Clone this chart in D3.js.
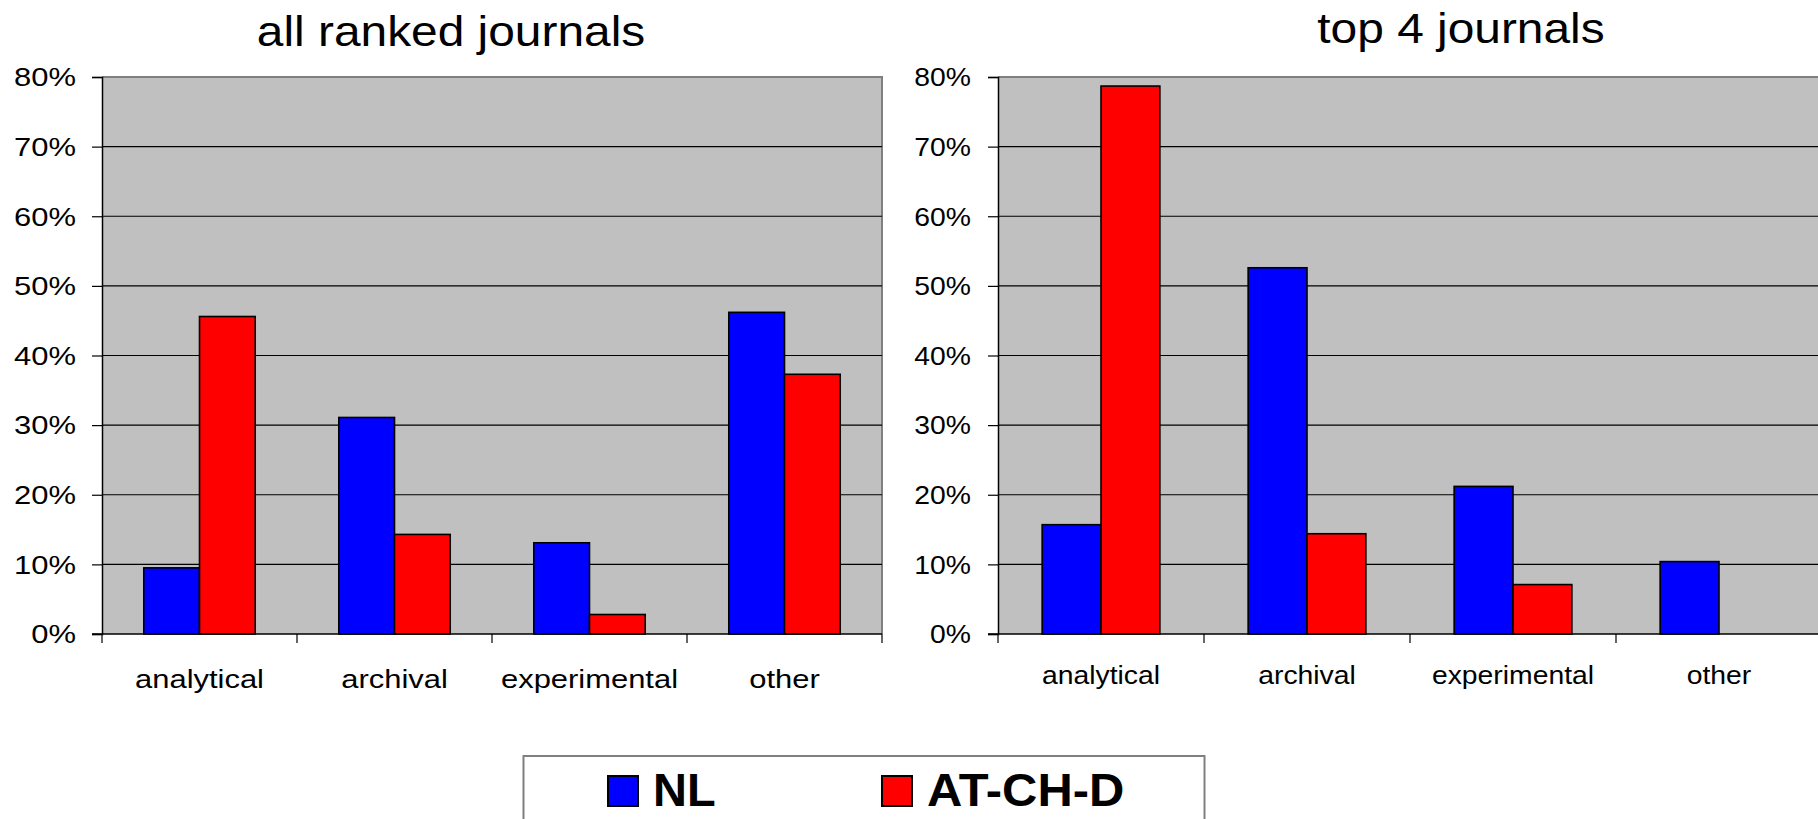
<!DOCTYPE html>
<html>
<head>
<meta charset="utf-8">
<script src="https://cdn.jsdelivr.net/npm/d3@7"></script>
<style>
  html, body { margin: 0; padding: 0; background: #fff; }
  svg { display: block; font-family: "Liberation Sans", Arial, sans-serif; }
</style>
</head>
<body>
<svg id="chart" width="1818" height="819"></svg>
<script>
// ---- data ----
const categories = ["analytical", "archival", "experimental", "other"];
const seriesNames = ["NL", "AT-CH-D"];
const seriesColors = ["#0000FF", "#FF0000"];
const allRankedNL = [9.5, 31.1, 13.1, 46.2];
const allRankedAT = [45.6, 14.3, 2.8, 37.3];
const top4NL = [15.7, 52.6, 21.2, 10.4];
const top4AT = [78.7, 14.4, 7.1, 0];
const yTickValues = [0, 10, 20, 30, 40, 50, 60, 70, 80];
const panelTitles = ["all ranked journals", "top 4 journals"];

const svg = d3.select("#chart");

function stretchedText(g, x, y, txt, size, sx, anchor, weight) {
  return g.append("text")
    .attr("transform", `translate(${x},${y}) scale(${sx},1)`)
    .attr("text-anchor", anchor)
    .attr("font-size", size)
    .attr("font-weight", weight || "normal")
    .attr("fill", "#000")
    .text(txt);
}

function drawPanel(cfg) {
  const g = svg.append("g");
  const y = d3.scaleLinear().domain([0, 80]).range([634, 77]);
  const x0 = d3.scaleBand().domain(categories).range([cfg.left, cfg.right]).padding(0);
  const cw = x0.bandwidth();
  const barW = cw / 3.5;
  const x1 = d3.scaleBand().domain(seriesNames).range([0.75 * barW, 2.75 * barW]).padding(0);

  // plot area
  g.append("rect")
    .attr("x", cfg.left).attr("y", y(80))
    .attr("width", cfg.right - cfg.left).attr("height", y(0) - y(80))
    .attr("fill", "#C0C0C0");
  // top & right border
  g.append("path")
    .attr("d", `M${cfg.left},${y(80)}H${cfg.right}V${y(0)}`)
    .attr("fill", "none").attr("stroke", "#808080").attr("stroke-width", 2);

  // gridlines
  g.selectAll(".grid").data(yTickValues.filter(v => v > 0 && v < 80)).enter()
    .append("line")
    .attr("x1", cfg.left).attr("x2", cfg.right)
    .attr("y1", d => y(d)).attr("y2", d => y(d))
    .attr("stroke", "#000").attr("stroke-width", 1.2);

  // bars
  const data = categories.map((c, i) => ({ cat: c, vals: [cfg.nl[i], cfg.at[i]] }));
  const grp = g.selectAll(".cat").data(data).enter().append("g")
    .attr("transform", d => `translate(${x0(d.cat)},0)`);
  grp.selectAll("rect").data(d => d.vals.map((v, k) => ({ v, k })).filter(e => e.v > 0))
    .enter().append("rect")
    .attr("x", d => x1(seriesNames[d.k]))
    .attr("y", d => y(d.v))
    .attr("width", x1.bandwidth())
    .attr("height", d => y(0) - y(d.v))
    .attr("fill", d => seriesColors[d.k])
    .attr("stroke", "#000").attr("stroke-width", 1.6);

  // y axis
  const ya = g.append("g").attr("transform", `translate(${cfg.left},0)`)
    .call(d3.axisLeft(y).tickValues(yTickValues).tickSize(10).tickFormat(""));
  ya.select(".domain").attr("stroke", "#000").attr("stroke-width", 1.5);
  ya.selectAll(".tick line").attr("stroke", "#000").attr("stroke-width", 1.2);
  yTickValues.forEach(v => {
    stretchedText(g, cfg.yLabelX, y(v) + cfg.fs * 0.36, v + "%", cfg.fs, cfg.sx, "end");
  });

  // x axis
  g.append("line").attr("x1", cfg.left - 10).attr("x2", cfg.right)
    .attr("y1", y(0)).attr("y2", y(0)).attr("stroke", "#000").attr("stroke-width", 1.5);
  const bounds = categories.map(c => x0(c)).concat([cfg.right]);
  g.selectAll(".xt").data(bounds).enter().append("line")
    .attr("x1", d => d).attr("x2", d => d)
    .attr("y1", y(0)).attr("y2", y(0) + 9)
    .attr("stroke", "#000").attr("stroke-width", 1.2);
  categories.forEach(c => {
    stretchedText(g, x0(c) + cw / 2, cfg.catY, c, cfg.fs, cfg.sx, "middle");
  });

  // title
  stretchedText(g, cfg.titleX, cfg.titleY, cfg.title, 42, 1.14, "middle");
}

drawPanel({ left: 102, right: 882, nl: allRankedNL, at: allRankedAT, title: panelTitles[0],
  titleX: 451, titleY: 46, yLabelX: 76, catY: 688, fs: 26, sx: 1.19 });
drawPanel({ left: 998, right: 1822, nl: top4NL, at: top4AT, title: panelTitles[1],
  titleX: 1461, titleY: 43, yLabelX: 971, catY: 684, fs: 26, sx: 1.09 });

// legend
const lg = svg.append("g");
lg.append("rect").attr("x", 523.5).attr("y", 756).attr("width", 681).attr("height", 80)
  .attr("fill", "#fff").attr("stroke", "#808080").attr("stroke-width", 2);
const legendX = [608, 882];
seriesNames.forEach((s, i) => {
  lg.append("rect").attr("x", legendX[i]).attr("y", 776).attr("width", 30).attr("height", 30)
    .attr("fill", seriesColors[i]).attr("stroke", "#000").attr("stroke-width", 2);
  stretchedText(lg, legendX[i] + 45, 806, s, 47, i === 1 ? 1.04 : 1.0, "start", "bold");
});
</script>
</body>
</html>
